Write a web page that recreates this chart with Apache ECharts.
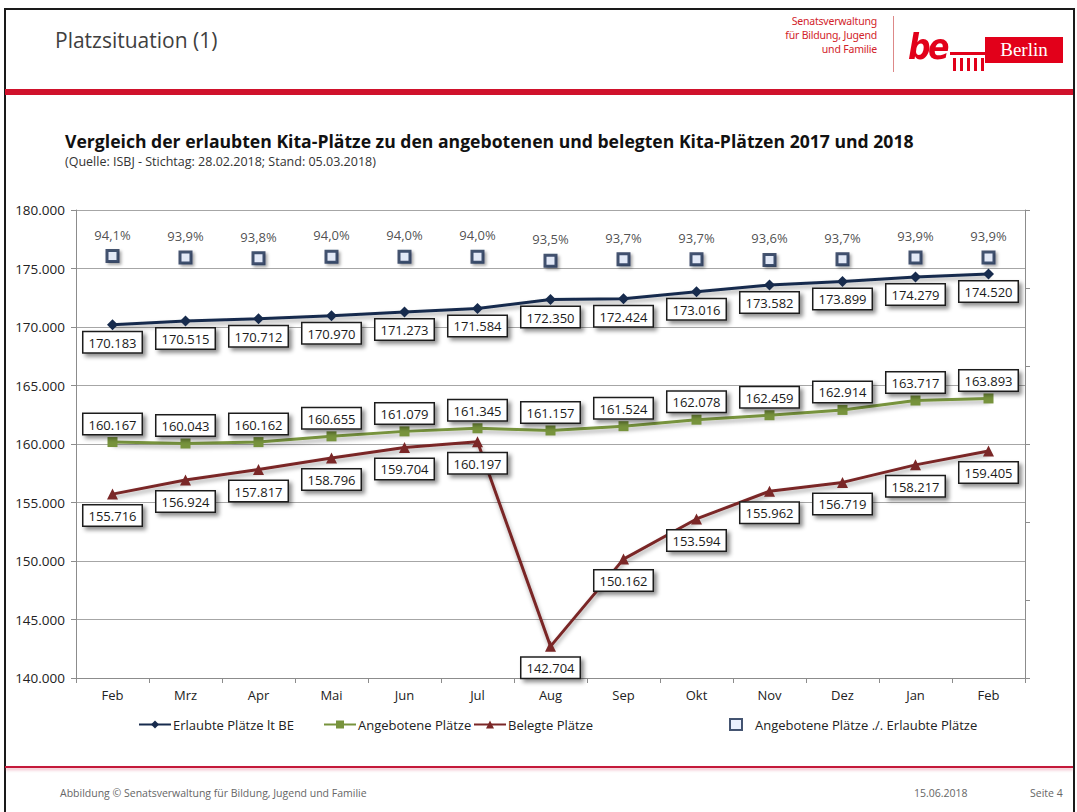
<!DOCTYPE html>
<html lang="de">
<head>
<meta charset="utf-8">
<title>Platzsituation (1)</title>
<script src="https://cdn.jsdelivr.net/npm/echarts@6/dist/echarts.min.js"></script>
<style>
  html, body { margin: 0; padding: 0; background: #fff; }
  body { width: 1077px; height: 812px; position: relative; overflow: hidden; font-family: "Open Sans", "Noto Sans", sans-serif; }
  #frame { position: absolute; left: 4px; top: 8px; width: 1067px; height: 840px; border: 2px solid #1a1a1a; border-bottom: none; }
  #chart { position: absolute; left: 0; top: 0; width: 1077px; height: 812px; }
  .hdr-title { position: absolute; left: 55px; top: 26px; font-size: 21px; color: #3f3f3f; font-family: "Open Sans", sans-serif; }
  .senat { position: absolute; right: 200px; top: 14px; text-align: right; font-size: 10.5px; line-height: 14px; color: #d2232a; font-family: "Liberation Sans Narrow", "Noto Sans", sans-serif; letter-spacing: -0.2px; }
  .divider { position: absolute; left: 893px; top: 16px; width: 1px; height: 56px; background: #d88; }
  .be { position: absolute; left: 908px; top: 26px; font-size: 36px; font-weight: bold; font-style: italic; color: #e2001a; font-family: "DejaVu Sans", sans-serif; letter-spacing: -3px; transform: scaleX(0.88); transform-origin: left top; }
  .berlin { position: absolute; left: 985px; top: 37px; width: 78px; height: 26px; background: #e2001a; color: #fff; font-family: "Liberation Serif", "DejaVu Serif", serif; font-size: 19px; line-height: 26px; text-align: center; }
  .rule-top { position: absolute; left: 5px; top: 89px; width: 1068px; height: 6px; background: #d0122c; }
  .rule-bot { position: absolute; left: 5px; top: 766px; width: 1068px; height: 2px; background: #c4193a; box-shadow: 0 2px 3px rgba(220,80,110,0.45); }
  .foot { position: absolute; top: 786px; font-size: 10.5px; color: #666; font-family: "Open Sans", sans-serif; }
</style>
</head>
<body>
<div id="chart"></div>
<div id="frame"></div>
<div class="hdr-title">Platzsituation (1)</div>
<div class="senat">Senatsverwaltung<br>für Bildung, Jugend<br>und Familie</div>
<div class="divider"></div>
<div class="be">be</div>
<svg style="position:absolute;left:950px;top:50px" width="36" height="22" viewBox="0 0 36 22">
  <rect x="0" y="2" width="36" height="3" fill="#e2001a"/>
  <rect x="3" y="8" width="3" height="13" fill="#e2001a"/>
  <rect x="10" y="8" width="3" height="13" fill="#e2001a"/>
  <rect x="17" y="8" width="3" height="13" fill="#e2001a"/>
  <rect x="24" y="8" width="3" height="13" fill="#e2001a"/>
  <rect x="31" y="8" width="3" height="13" fill="#e2001a"/>
</svg>
<div class="berlin">Berlin</div>
<div class="rule-top"></div>
<div class="rule-bot"></div>
<div class="foot" style="left:60px">Abbildung © Senatsverwaltung für Bildung, Jugend und Familie</div>
<div class="foot" style="left:914px">15.06.2018</div>
<div class="foot" style="left:1030px">Seite 4</div>

<script>
// Monate Feb 2017 bis Feb 2018
const months = ['Feb', 'Mrz', 'Apr', 'Mai', 'Jun', 'Jul', 'Aug', 'Sep', 'Okt', 'Nov', 'Dez', 'Jan', 'Feb'];

// Erlaubte Plätze lt. Betriebserlaubnis
const erlaubte = [170183, 170515, 170712, 170970, 171273, 171584, 172350, 172424, 173016, 173582, 173899, 174279, 174520];
// Angebotene Plätze
const angebotene = [160167, 160043, 160162, 160655, 161079, 161345, 161157, 161524, 162078, 162459, 162914, 163717, 163893];
// Belegte Plätze
const belegte = [155716, 156924, 157817, 158796, 159704, 160197, 142704, 150162, 153594, 155962, 156719, 158217, 159405];
// Angebotene Plätze ./. Erlaubte Plätze in Prozent
const quote = [94.1, 93.9, 93.8, 94.0, 94.0, 94.0, 93.5, 93.7, 93.7, 93.6, 93.7, 93.9, 93.9];

const seriesNames = ['Erlaubte Plätze lt BE', 'Angebotene Plätze', 'Belegte Plätze', 'Angebotene Plätze ./. Erlaubte Plätze'];

const FONT = '"Open Sans", "Noto Sans", sans-serif';
const fmtThousands = v => String(v).replace(/\B(?=(\d{3})+(?!\d))/g, '.');
const fmtPct = v => v.toFixed(1).replace('.', ',') + '%';

const boxLabel = (pos, dist) => ({
  show: true,
  position: pos,
  distance: dist,
  formatter: p => fmtThousands(p.value),
  fontFamily: FONT,
  fontSize: 13,
  color: '#1a1a1a',
  backgroundColor: '#ffffff',
  borderColor: '#1f1f1f',
  borderWidth: 1.5,
  padding: [4, 5, 3, 5],
  shadowColor: 'rgba(0,0,0,0.45)',
  shadowBlur: 4,
  shadowOffsetX: 3,
  shadowOffsetY: 3
});

const lineShadow = { shadowColor: 'rgba(0,0,0,0.35)', shadowBlur: 4, shadowOffsetX: 1, shadowOffsetY: 3 };

const legendBase = (name, left, w) => ({
  data: [name],
  left: left,
  top: 713,
  itemWidth: w,
  itemHeight: 10,
  itemGap: 2,
  textStyle: { fontFamily: FONT, fontSize: 13, color: '#222', padding: [0, 0, 0, -3] }
});

const chart = echarts.init(document.getElementById('chart'), null, { renderer: 'svg' });

chart.setOption({
  backgroundColor: 'transparent',
  animation: false,
  title: {
    text: 'Vergleich der erlaubten Kita-Plätze zu den angebotenen und belegten Kita-Plätzen 2017 und 2018',
    subtext: '(Quelle: ISBJ - Stichtag: 28.02.2018; Stand: 05.03.2018)',
    left: 60,
    top: 127,
    itemGap: 5,
    textStyle: { fontFamily: FONT, fontSize: 17.6, fontWeight: 'bold', color: '#111' },
    subtextStyle: { fontFamily: FONT, fontSize: 12.5, color: '#333' }
  },
  legend: [
    legendBase(seriesNames[0], 133, 32),
    legendBase(seriesNames[1], 318, 32),
    legendBase(seriesNames[2], 468, 32),
    Object.assign(legendBase(seriesNames[3], 724, 12), {
      itemHeight: 11,
      itemGap: 6,
      textStyle: { fontFamily: FONT, fontSize: 13, color: '#222', padding: [0, 0, 0, 8] }
    })
  ],
  grid: { left: 76, right: 52, top: 210, bottom: 134, containLabel: false },
  xAxis: {
    type: 'category',
    data: months,
    boundaryGap: true,
    axisLine: { lineStyle: { color: '#8c8c8c', width: 1 } },
    axisTick: { show: true, length: 5, lineStyle: { color: '#8c8c8c' } },
    axisLabel: { fontFamily: FONT, fontSize: 13, color: '#222', margin: 10 },
    splitLine: { show: false }
  },
  yAxis: [
    {
      type: 'value',
      min: 140000,
      max: 180000,
      interval: 5000,
      axisLine: { show: true, lineStyle: { color: '#8c8c8c' } },
      axisTick: { show: true, length: 5, lineStyle: { color: '#8c8c8c' } },
      axisLabel: { fontFamily: FONT, fontSize: 13.5, color: '#222', margin: 11, formatter: v => fmtThousands(v) },
      splitLine: { show: true, lineStyle: { color: '#a6a6a6', width: 1 } }
    },
    {
      type: 'value',
      position: 'right',
      min: 40,
      max: 100,
      interval: 10,
      axisLine: { show: true, lineStyle: { color: '#8c8c8c' } },
      axisTick: { show: true, length: 5, lineStyle: { color: '#8c8c8c' } },
      axisLabel: { show: false },
      splitLine: { show: false }
    }
  ],
  series: [
    {
      name: seriesNames[0],
      type: 'line',
      data: erlaubte,
      yAxisIndex: 0,
      symbol: 'diamond',
      symbolSize: 11,
      color: '#172b4d',
      lineStyle: Object.assign({ color: '#172b4d', width: 3 }, lineShadow),
      itemStyle: { color: '#172b4d' },
      label: boxLabel('bottom', 2),
      z: 3
    },
    {
      name: seriesNames[1],
      type: 'line',
      data: angebotene,
      yAxisIndex: 0,
      symbol: 'rect',
      symbolSize: 10,
      color: '#77933c',
      lineStyle: Object.assign({ color: '#77933c', width: 3 }, lineShadow),
      itemStyle: { color: '#77933c' },
      label: boxLabel('top', 3),
      z: 3
    },
    {
      name: seriesNames[2],
      type: 'line',
      data: belegte,
      yAxisIndex: 0,
      symbol: 'triangle',
      symbolSize: 11,
      color: '#7a2727',
      lineStyle: Object.assign({ color: '#7a2727', width: 3 }, lineShadow),
      itemStyle: { color: '#7a2727' },
      label: boxLabel('bottom', 6),
      z: 3
    },
    {
      name: seriesNames[3],
      type: 'scatter',
      data: quote,
      yAxisIndex: 1,
      symbol: 'rect',
      symbolSize: 11,
      color: '#172b4d',
      itemStyle: {
        color: '#e6eeff',
        borderColor: '#172b4d',
        borderWidth: 3,
        shadowColor: 'rgba(0,0,0,0.4)',
        shadowBlur: 3,
        shadowOffsetX: 2,
        shadowOffsetY: 2
      },
      label: {
        show: true,
        position: 'top',
        distance: 8,
        formatter: p => fmtPct(p.value),
        fontFamily: FONT,
        fontSize: 13,
        color: '#222'
      },
      z: 4
    }
  ]
});
</script>
</body>
</html>
